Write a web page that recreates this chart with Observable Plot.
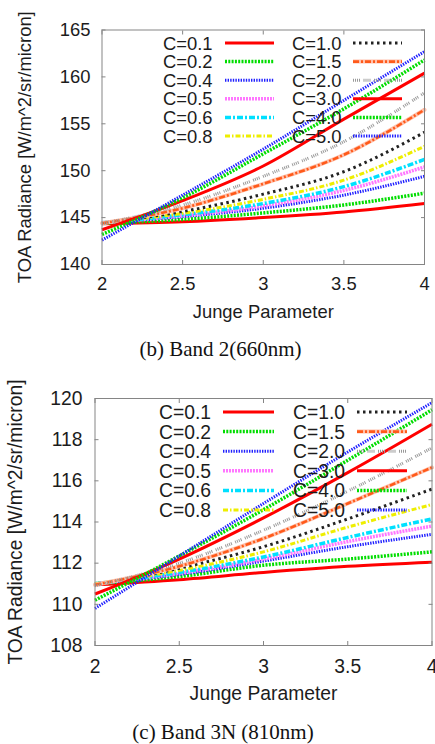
<!DOCTYPE html>
<html><head><meta charset="utf-8">
<script src="https://cdn.jsdelivr.net/npm/d3@7"></script>
<script src="https://cdn.jsdelivr.net/npm/@observablehq/plot@0.6"></script>
<style>
html,body{margin:0;padding:0;background:#fff;overflow:hidden;}
#wrap{position:relative;width:435px;height:744px;overflow:hidden;}
.chart{position:absolute;left:0;}
.caption{position:absolute;left:0;width:441px;font-family:"Liberation Serif","Times New Roman",serif;font-size:21px;color:#111;text-align:center;line-height:1;}
</style></head><body>
<div id="wrap"></div>
<script>
// ---------- data ----------
const junge = [2, 2.5, 3, 3.5, 4];
const cLabels = ["C=0.1","C=0.2","C=0.4","C=0.5","C=0.6","C=0.8","C=1.0","C=1.5","C=2.0","C=3.0","C=4.0","C=5.0"];
const xTicks = [2, 2.5, 3, 3.5, 4];
const yTicksBand2 = [140, 145, 150, 155, 160, 165];
const yTicksBand3N = [108, 110, 112, 114, 116, 118, 120];
const yLabel = "TOA Radiance [W/m^2/sr/micron]";
const xLabel = "Junge Parameter";
const captionBand2 = "(b) Band 2(660nm)";
const captionBand3N = "(c) Band 3N (810nm)";

// Band 2 (660nm), values at junge = 2, 2.5, 3, 3.5, 4
const b2_c01 = [144.35, 144.55, 145.0, 145.6, 146.5];
const b2_c02 = [144.4, 144.8, 145.5, 146.35, 147.6];
const b2_c04 = [144.45, 145.1, 146.0, 147.4, 149.4];
const b2_c05 = [144.45, 145.2, 146.25, 147.9, 150.4];
const b2_c06 = [144.45, 145.3, 146.5, 148.3, 151.2];
const b2_c08 = [144.45, 145.45, 146.95, 149.0, 152.6];
const b2_c10 = [144.45, 145.65, 147.5, 149.9, 154.1];
const b2_c15 = [144.4, 146.0, 148.6, 151.7, 156.5];
const b2_c20 = [144.35, 146.35, 149.4, 153.1, 158.3];
const b2_c30 = [143.7, 146.8, 150.5, 155.5, 160.4];
const b2_c40 = [143.2, 147.1, 151.8, 156.6, 161.8];
const b2_c50 = [142.6, 147.4, 152.3, 157.5, 162.7];

// Band 3N (810nm)
const b3_c01 = [110.95, 111.2, 111.55, 111.85, 112.05];
const b3_c02 = [111.0, 111.35, 111.9, 112.2, 112.55];
const b3_c04 = [111.0, 111.45, 112.1, 112.8, 113.4];
const b3_c05 = [111.0, 111.5, 112.2, 113.05, 113.8];
const b3_c06 = [111.0, 111.55, 112.3, 113.25, 114.15];
const b3_c08 = [111.0, 111.65, 112.55, 113.75, 114.85];
const b3_c10 = [110.95, 111.75, 112.8, 114.15, 115.6];
const b3_c15 = [110.95, 111.85, 113.2, 114.9, 116.65];
const b3_c20 = [110.9, 112.0, 113.6, 115.5, 117.6];
const b3_c30 = [110.5, 112.2, 114.2, 116.4, 118.75];
const b3_c40 = [110.2, 112.35, 114.6, 117.0, 119.45];
const b3_c50 = [109.8, 112.35, 114.9, 117.4, 119.8];

// ---------- styles ----------
const seriesColors = ["#ff0000","#00dd00","#2020ff","#ff77ff","#00e0ff","#eeee00","#222222","#ff5a1a","#999999","#ff0000","#00dd00","#2020ff"];
const seriesDash   = [null,"2,1.3","1.4,1.2","2,1","6,2,2,2","5,2,1.5,2","2.5,3.5","6,2,2,2","1,1,1,1,1,1,1,3.5",null,"2,1.3","1.4,1.2"];
const seriesWidth  = [3,3.5,3,3.5,3.5,3,3,2.6,3,3,3.5,3];
const seriesHalo   = [null,null,null,null,null,null,null,"#ffc2ad",null,null,null,null];
const frameColor = "#858585";
const textColor = "#1c1c1c";

function buildRows(series) {
  const rows = [];
  series.forEach((vals, i) => vals.forEach((v, j) => rows.push({x: junge[j], y: v, c: cLabels[i], i})));
  return rows;
}

function makeChart(cfg) {
  const rows = buildRows(cfg.series);
  const fs = cfg.fontSize;
  const marks = [];
  cfg.series.forEach((_, i) => {
    const d = rows.filter(r => r.i === i);
    if (seriesHalo[i]) marks.push(Plot.line(d, {x: "x", y: "y", stroke: seriesHalo[i], strokeWidth: 4, curve: "monotone-x"}));
    marks.push(Plot.line(d, {x: "x", y: "y", stroke: seriesColors[i], strokeWidth: seriesWidth[i], strokeDasharray: seriesDash[i] || undefined, curve: "monotone-x", strokeLinecap: "butt"}));
  });
  marks.push(Plot.frame({stroke: frameColor, strokeWidth: 1}));
  // inward ticks on all sides
  for (const a of ["bottom","top"]) marks.push(Plot.axisX({anchor: a, ticks: xTicks, tickSize: -4, fill: "none", stroke: frameColor, label: null}));
  for (const a of ["left","right"]) marks.push(Plot.axisY({anchor: a, ticks: cfg.yTicks, tickSize: -4, fill: "none", stroke: frameColor, label: null}));
  // tick labels
  marks.push(Plot.axisX({anchor: "bottom", ticks: xTicks, tickSize: 0, tickPadding: cfg.xPad, stroke: "none", fill: textColor, fontSize: fs, label: null, tickFormat: d => String(d)}));
  marks.push(Plot.axisY({anchor: "left", ticks: cfg.yTicks, tickSize: 0, tickPadding: cfg.yPad, stroke: "none", fill: textColor, fontSize: fs, label: null, tickFormat: d => String(d)}));
  // axis titles
  marks.push(Plot.text([xLabel], {text: d => d, frameAnchor: "bottom", dy: 48, lineAnchor: "middle", textAnchor: "middle", fontSize: fs, fill: textColor}));
  marks.push(Plot.text([yLabel], {text: d => d, frameAnchor: "left", rotate: -90, dx: cfg.yLabelDx, textAnchor: "middle", lineAnchor: "middle", fontSize: fs, fill: textColor}));

  const svg = Plot.plot({
    width: 435,
    height: cfg.height,
    marginLeft: cfg.ml, marginRight: cfg.mr, marginTop: cfg.mt, marginBottom: cfg.mb,
    x: {domain: [2, 4]},
    y: {domain: cfg.yDomain},
    style: {fontFamily: "'Liberation Sans', Arial, Helvetica, sans-serif", background: "transparent", overflow: "hidden"},
    marks
  });

  // legend (two columns of six entries)
  const g = d3.select(svg).append("g").attr("class", "legend").attr("text-anchor", "start");
  cLabels.forEach((lab, i) => {
    const col = i < 6 ? 0 : 1, row = i % 6;
    const L = cfg.legend;
    const y = L.y0 + row * L.dy;
    const tx = col === 0 ? L.tx0 : L.tx1;
    const sx0 = col === 0 ? L.s0[0] : L.s1[0];
    const sx1 = col === 0 ? L.s0[1] : L.s1[1];
    g.append("text").attr("x", tx).attr("y", y).attr("dy", "0.36em").attr("text-anchor", "start")
      .attr("font-size", fs).attr("fill", textColor).text(lab);
    if (seriesHalo[i]) g.append("line").attr("x1", sx0).attr("x2", sx1).attr("y1", y).attr("y2", y)
      .attr("stroke", seriesHalo[i]).attr("stroke-width", 4);
    g.append("line").attr("x1", sx0).attr("x2", sx1).attr("y1", y).attr("y2", y)
      .attr("stroke", seriesColors[i]).attr("stroke-width", seriesWidth[i])
      .attr("stroke-dasharray", seriesDash[i] || null);
  });
  svg.classList.add("chart");
  svg.style.top = cfg.top + "px";
  return svg;
}

const wrap = document.getElementById("wrap");

wrap.appendChild(makeChart({
  series: [b2_c01,b2_c02,b2_c04,b2_c05,b2_c06,b2_c08,b2_c10,b2_c15,b2_c20,b2_c30,b2_c40,b2_c50],
  yDomain: [140, 165], yTicks: yTicksBand2,
  top: 0, height: 332, ml: 101.5, mr: 11, mt: 29.5, mb: 68,
  fontSize: 18.4, xPad: 12.5, yPad: 11.5, yLabelDx: -76.5,
  legend: {y0: 43, dy: 18.6, tx0: 163, tx1: 292, s0: [225, 274], s1: [353, 402]}
}));

wrap.appendChild(makeChart({
  series: [b3_c01,b3_c02,b3_c04,b3_c05,b3_c06,b3_c08,b3_c10,b3_c15,b3_c20,b3_c30,b3_c40,b3_c50],
  yDomain: [108, 120], yTicks: yTicksBand3N,
  top: 360, height: 350, ml: 94.5, mr: 3.5, mt: 38, mb: 65,
  fontSize: 19.3, xPad: 13.3, yPad: 12.5, yLabelDx: -79.5,
  legend: {y0: 52, dy: 19.6, tx0: 159, tx1: 293, s0: [223, 274], s1: [357, 407]}
}));

const cap1 = document.createElement("div");
cap1.className = "caption"; cap1.style.top = "339px"; cap1.textContent = captionBand2;
wrap.appendChild(cap1);
const cap2 = document.createElement("div");
cap2.className = "caption"; cap2.style.top = "722px"; cap2.style.width = "446px"; cap2.textContent = captionBand3N;
wrap.appendChild(cap2);
</script>
</body></html>
